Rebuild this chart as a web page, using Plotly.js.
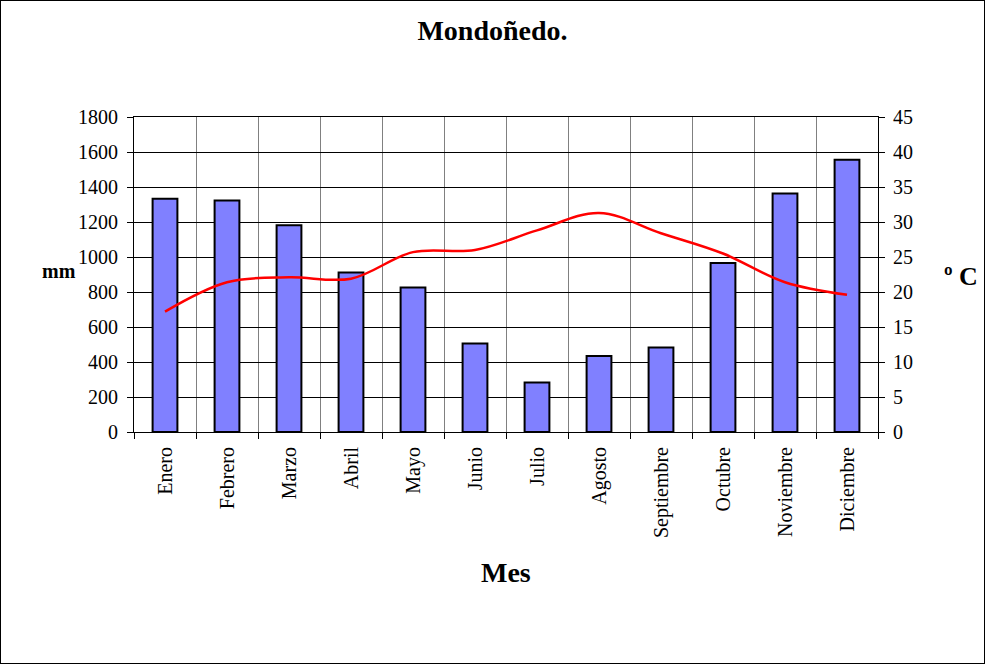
<!DOCTYPE html>
<html>
<head>
<meta charset="utf-8">
<script src="https://cdn.plot.ly/plotly-3.0.1.min.js"></script>
<style>
  body { margin: 0; }
  #chart { width: 985px; height: 664px; outline: 1px solid #000; outline-offset: -1px; }
</style>
</head>
<body>
<div id="chart"></div>
<script>
// DATA
const MESES = ["Enero", "Febrero", "Marzo", "Abril", "Mayo", "Junio",
               "Julio", "Agosto", "Septiembre", "Octubre", "Noviembre", "Diciembre"];
const PRECIPITACION = [1333, 1323, 1181, 912, 826, 506, 283, 434, 483, 966, 1363, 1556];
const TEMPERATURA = [17.2, 21.4, 22.1, 21.9, 25.7, 26.0, 28.8, 31.3, 28.4, 25.5, 21.4, 19.6];

const FONT = 'Liberation Serif, Times New Roman, serif';

let trace1 = {
    type: 'bar',
    x: MESES,
    y: PRECIPITACION,
    marker: { color: '#8080FF', line: { color: '#000', width: 2 } },
    hoverinfo: 'skip'
};

let trace2 = {
    type: 'scatter',
    mode: 'lines',
    x: MESES,
    y: TEMPERATURA,
    yaxis: 'y2',
    line: { color: '#FF0000', width: 2.5, shape: 'spline', smoothing: 1 },
    hoverinfo: 'skip'
};

let data = [trace1, trace2];

// LAYOUT
let layout = {
    width: 985,
    height: 664,
    margin: { t: 117, r: 107, b: 232, l: 134 },
    paper_bgcolor: 'rgba(0,0,0,0)',
    plot_bgcolor: '#fff',
    showlegend: false,
    bargap: 0.6,
    font: { family: FONT, size: 20, color: '#000' },
    title: {
        text: '<b>Mondoñedo.</b>',
        font: { family: FONT, size: 28 },
        x: 0.5, xref: 'container',
        y: 0.955, yref: 'container', yanchor: 'middle'
    },
    xaxis: {
        type: 'category',
        range: [-0.5, 11.5],
        tickangle: -90,
        tickson: 'boundaries',
        ticks: 'outside',
        ticklen: 6,
        tickcolor: '#000',
        ticklabelstandoff: 6,
        showgrid: true,
        gridcolor: '#808080',
        gridwidth: 1,
        showline: true,
        linecolor: '#000',
        mirror: true,
        tickfont: { size: 20 }
    },
    yaxis: {
        range: [0, 1800],
        dtick: 200,
        ticks: 'outside',
        ticklen: 6,
        tickcolor: '#000',
        ticklabelstandoff: 5,
        gridcolor: '#000',
        showline: true,
        linecolor: '#000',
        zeroline: false,
        tickfont: { size: 20 }
    },
    yaxis2: {
        range: [0, 45],
        dtick: 5,
        overlaying: 'y',
        side: 'right',
        ticks: 'outside',
        ticklen: 6,
        tickcolor: '#000',
        ticklabelstandoff: 4,
        showgrid: false,
        showline: true,
        linecolor: '#000',
        zeroline: false,
        tickfont: { size: 20 }
    },
    annotations: [
        { text: '<b>mm</b>', xref: 'paper', yref: 'paper', x: -0.1008, y: 0.51,
          showarrow: false, font: { size: 20 }, xanchor: 'center', yanchor: 'middle' },
        { text: '<b>º C</b>', xref: 'paper', yref: 'paper', x: 1.112, y: 0.495,
          showarrow: false, font: { size: 26 }, xanchor: 'center', yanchor: 'middle' },
        { text: '<b>Mes</b>', xref: 'paper', yref: 'paper', x: 0.5, y: -0.445,
          showarrow: false, font: { size: 28 }, xanchor: 'center', yanchor: 'middle' }
    ]
};

const config = { displayModeBar: false, staticPlot: true };

Plotly.newPlot('chart', data, layout, config);
</script>
</body>
</html>
